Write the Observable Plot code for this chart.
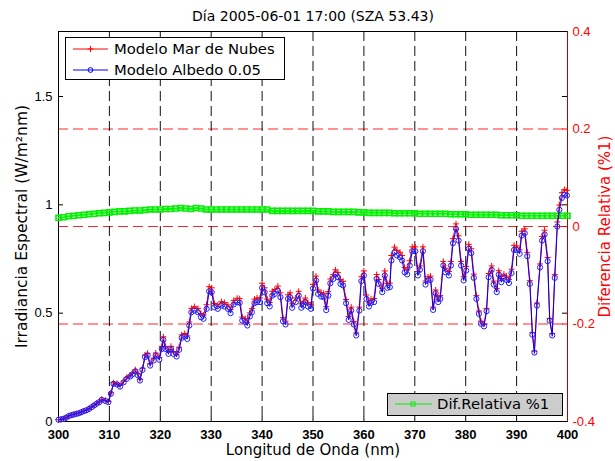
<!DOCTYPE html>
<html><head><meta charset="utf-8">
<script src="https://cdn.jsdelivr.net/npm/d3@7"></script>
<script src="https://cdn.jsdelivr.net/npm/@observablehq/plot@0.6"></script>
<style>body{margin:0;background:#fff}#chart{width:615px;height:461px}</style>
</head><body><div id="chart"></div>
<script>
const wavelength = [
300,300.5,301,301.5,302,302.5,303,303.5,304,304.5,305,305.5,306,306.5,307,307.5,308,308.5,309.2,309.8,
310.3,310.8,311.5,312.1,312.8,313.4,314.1,314.5,315.1,315.6,316,316.5,317,317.5,318,318.7,319.1,319.8,
320.3,320.6,321,321.6,322.1,322.6,323.2,323.7,324.2,324.8,325.3,325.7,326.1,326.7,327.4,328,328.5,329.1,329.6,
330.1,330.6,331.3,332,332.6,333.3,333.8,334.4,335.1,335.6,336.1,336.7,337.1,337.6,338,338.5,339,339.6,340,340.5,341,341.5,342,342.5,343.1,343.6,344.1,344.6,345.1,345.5,345.9,346.6,347.2,347.7,348.1,348.5,349,349.6,
350,350.6,351,351.6,352.1,352.6,353,353.4,354,354.4,354.9,355.4,355.9,356.5,357,357.5,358,358.5,359.1,359.5,360,360.5,361,361.4,362,362.5,362.9,363.6,364.1,364.6,365.1,365.4,366,366.5,367.1,367.5,368,368.5,369,
369.5,370.1,370.6,371,371.6,372.1,372.6,373.1,373.6,374.1,374.6,375,375.6,376,376.7,377.1,377.5,378.1,378.6,379.1,379.6,380.1,380.6,381.1,381.6,382.1,382.6,383,383.6,384.1,384.5,385.1,385.5,386.1,386.5,387,387.5,388,388.5,389,389.5,
390,390.6,391,391.6,392.1,392.6,393.1,393.5,394,394.6,395,395.5,396.1,396.5,397,397.5,398,398.4,398.9,399.4,399.9];
const irrAlbedo = [
.008,.010,.012,.018,.025,.029,.032,.035,.038,.043,.048,.052,.058,.066,.074,.082,.089,.100,.095,.089,
.128,.174,.171,.161,.181,.197,.208,.217,.232,.213,.189,.238,.297,.305,.258,.282,.305,.285,
.335,.377,.335,.312,.335,.312,.300,.331,.386,.392,.381,.443,.504,.512,.504,.481,.474,.520,.601,
.597,.527,.520,.535,.531,.520,.500,.540,.550,.548,.466,.459,.443,.485,.504,.546,.551,.551,.617,.597,.546,.531,.581,.589,.604,.574,.463,.448,.566,.574,.525,.551,.581,.525,.535,.551,.531,.520,
.614,.651,.589,.577,.574,.514,.581,.638,.658,.679,.666,.635,.628,.546,.469,.512,.448,.397,.512,.648,.674,.566,.531,.548,.551,.658,.635,.597,.674,.617,.620,.743,.781,.766,.758,.743,.689,.679,.720,
.786,.786,.674,.700,.786,.632,.651,.654,.515,.592,.551,.566,.720,.689,.674,.720,.823,.889,.835,.720,.651,.697,.797,.777,.663,.566,.497,.451,.439,.509,.666,.700,.632,.597,.678,.643,.663,.654,.639,.685,.792,
.792,.774,.858,.869,.763,.635,.401,.318,.535,.711,.835,.863,.740,.465,.397,.663,.900,.977,1.032,1.047,1.043];
const irrNubes = [
.008,.010,.012,.018,.026,.030,.033,.036,.039,.044,.049,.053,.060,.068,.076,.084,.091,.103,.098,.092,
.132,.179,.176,.166,.186,.203,.214,.224,.239,.220,.195,.246,.307,.315,.267,.292,.316,.295,
.347,.391,.347,.323,.347,.323,.311,.343,.400,.406,.395,.459,.522,.530,.522,.498,.491,.539,.622,
.617,.545,.538,.553,.549,.538,.517,.558,.569,.567,.482,.475,.458,.501,.521,.565,.570,.570,.638,.617,.565,.549,.601,.609,.625,.594,.479,.463,.585,.594,.543,.570,.601,.543,.553,.570,.549,.538,
.633,.671,.607,.595,.592,.530,.599,.658,.678,.700,.687,.655,.647,.563,.484,.528,.462,.409,.528,.668,.695,.584,.547,.565,.568,.678,.655,.615,.695,.636,.639,.766,.805,.790,.781,.766,.710,.700,.742,
.806,.806,.692,.718,.806,.648,.668,.671,.528,.607,.565,.581,.739,.707,.692,.739,.844,.912,.857,.739,.668,.715,.818,.797,.680,.581,.510,.463,.450,.522,.683,.718,.648,.613,.696,.660,.680,.671,.656,.703,.813,
.810,.792,.878,.889,.781,.650,.410,.325,.547,.727,.854,.883,.757,.476,.406,.678,.921,.999,1.056,1.071,1.067];
const wlDif = d3.range(300, 401);
const difRel = [
.018,.019,.021,.022,.023,.024,.025,.026,.027,.028,
.029,.030,.031,.031,.032,.033,.033,.034,.035,.035,
.035,.036,.036,.037,.038,.037,.036,.038,.037,.035,
.035,.035,.035,.035,.035,.035,.035,.035,.035,.035,
.035,.035,.032,.032,.032,.032,.032,.032,.032,.032,
.032,.031,.031,.031,.030,.030,.030,.030,.030,.029,
.029,.028,.028,.028,.028,.028,.027,.027,.027,.027,
.027,.026,.026,.026,.026,.026,.026,.025,.025,.025,
.025,.024,.024,.024,.024,.024,.024,.023,.023,.023,
.023,.022,.022,.022,.022,.022,.022,.022,.022,.022,.022];
const xTicks = [300,310,320,330,340,350,360,370,380,390,400];
const yTicksLeft = [0,0.5,1,1.5];
const yTickLabelsLeft = ["0","0.5","1","1.5"];
const yTicksRight = [-0.4,-0.2,0,0.2,0.4];
const yTickLabelsRight = ["-0.4","-0.2","0","0.2","0.4"];
const leftDomain = [0, 1.8];
const rightDomain = [-0.4, 0.4];
const titleText = "Día 2005-06-01 17:00 (SZA 53.43)";
const xLabel = "Longitud de Onda (nm)";
const yLabelLeft = "Irradiancia Espectral (W/m²nm)";
const yLabelRight = "Diferencia Relativa (%1)";
const legendLabels = ["Modelo Mar de Nubes", "Modelo Albedo 0.05", "Dif.Relativa %1"];

const n = Math.min(wavelength.length, irrAlbedo.length, irrNubes.length);
const spec = d3.range(n).map(i => ({w: wavelength[i], b: irrAlbedo[i], r: irrNubes[i]}));
const dif = wlDif.map((w, i) => ({w, d: difRel[i]}));
const toLeft = d3.scaleLinear(rightDomain, leftDomain);

const plusSymbol = {draw(ctx, size) { const r = Math.sqrt(size / Math.PI); ctx.moveTo(-r, 0); ctx.lineTo(r, 0); ctx.moveTo(0, -r); ctx.lineTo(0, r); }};

const W = 615, H = 461, mL = 58, mR = 48, mT = 31, mB = 40;
const fw = W - mL - mR, fh = H - mT - mB;
const tickFont = "Liberation Sans, Arial, sans-serif";
const textFont = "DejaVu Sans, Verdana, sans-serif";

const plot = Plot.plot({
  width: W, height: H,
  marginLeft: mL, marginRight: mR, marginTop: mT, marginBottom: mB,
  style: {background: "#fff", fontFamily: textFont, overflow: "visible"},
  x: {domain: [xTicks[0], xTicks[xTicks.length - 1]], axis: null, label: null},
  y: {domain: leftDomain, axis: null, label: null},
  marks: [
    Plot.ruleY(yTicksRight.map(toLeft), {stroke: "#ff0000", strokeOpacity: 0.85, strokeDasharray: "10,5", strokeWidth: 1}),
    Plot.ruleX(xTicks.slice(1, -1), {stroke: "#111", strokeDasharray: "10,5", strokeWidth: 1}),
    Plot.frame({stroke: "#000"}),
    Plot.ruleX([xTicks[xTicks.length - 1]], {stroke: "#c00000"}),
    Plot.ruleX(xTicks.slice(1, -1), {stroke: "#000", insetTop: fh - 5}),
    Plot.ruleY(yTicksLeft.slice(1), {stroke: "#000", insetRight: fw - 5}),
    Plot.ruleY(yTicksLeft.slice(1), {stroke: "#000", insetLeft: fw - 5}),
    Plot.ruleY(yTicksRight.slice(1, -1).map(toLeft), {stroke: "#ff0000", insetLeft: fw - 5}),
    Plot.line(dif, {x: "w", y: d => toLeft(d.d), stroke: "#00ff00", strokeWidth: 2}),
    Plot.dot(dif, {x: "w", y: d => toLeft(d.d), symbol: "square", r: 2.8, stroke: "#00f000", fill: "none", strokeWidth: 1.6}),
    Plot.line(spec, {x: "w", y: "r", stroke: "#ff0000", strokeWidth: 1}),
    Plot.dot(spec, {x: "w", y: "r", symbol: plusSymbol, r: 3, stroke: "#ff0000", fill: "none", strokeWidth: 1}),
    Plot.line(spec, {x: "w", y: "b", stroke: "#0000ff", strokeWidth: 1}),
    Plot.dot(spec, {x: "w", y: "b", r: 2.6, stroke: "#2020ff", fill: "none", strokeWidth: 1}),
    Plot.axisX(xTicks, {anchor: "bottom", tickSize: 0, tickPadding: 8, fontSize: 13, fontWeight: "bold", fontFamily: tickFont, fill: "#000", label: null}),
    Plot.axisY(yTicksLeft, {anchor: "left", tickSize: 0, tickPadding: 6, fontSize: 13, fontFamily: tickFont, tickFormat: (d, i) => yTickLabelsLeft[i], fill: "#000", label: null}),
    Plot.axisY(yTicksRight.map(toLeft), {anchor: "right", tickSize: 0, tickPadding: 5, fontSize: 13, fontFamily: tickFont, tickFormat: (d, i) => yTickLabelsRight[i], fill: "#ff0000", textAnchor: "start", label: null}),
    Plot.text([titleText], {frameAnchor: "top", dy: -15, fontSize: 14, fill: "#000", lineAnchor: "middle", textAnchor: "middle"}),
    Plot.text([xLabel], {frameAnchor: "bottom", dy: 29, fontSize: 15, fill: "#000", lineAnchor: "middle", textAnchor: "middle"}),
    Plot.text([yLabelLeft], {frameAnchor: "left", dx: -36, rotate: -90, fontSize: 15.5, fill: "#000", lineAnchor: "middle", textAnchor: "middle"}),
    Plot.text([yLabelRight], {frameAnchor: "right", dx: 38, rotate: -90, fontSize: 15, fill: "#ff0000", lineAnchor: "middle", textAnchor: "middle"})
  ]
});
document.getElementById("chart").appendChild(plot);

// legends
const svg = d3.select(plot);
const g1 = svg.append("g").attr("font-family", textFont).attr("font-size", 14.8).attr("text-anchor", "start");
g1.append("rect").attr("x", 65.5).attr("y", 37.5).attr("width", 219).attr("height", 42).attr("fill", "#fff").attr("stroke", "#000");
[[49, "#ff0000", 0], [70, "#0000ff", 1]].forEach(([yy, c, k]) => {
  g1.append("line").attr("x1", 73).attr("x2", 108).attr("y1", yy).attr("y2", yy).attr("stroke", c);
  if (k === 0) {
    g1.append("path").attr("d", `M87.5,${yy}h6M90.5,${yy - 3}v6`).attr("stroke", c).attr("fill", "none");
  } else {
    g1.append("circle").attr("cx", 90.5).attr("cy", yy).attr("r", 2.4).attr("stroke", c).attr("fill", "none");
  }
  g1.append("text").attr("x", 114).attr("y", yy).attr("dy", "0.35em").attr("fill", "#000").attr("text-anchor", "start").text(legendLabels[k]);
});
const g2 = svg.append("g").attr("font-family", textFont).attr("font-size", 14.8).attr("text-anchor", "start");
g2.append("rect").attr("x", 387.5).attr("y", 393.5).attr("width", 175).attr("height", 22).attr("fill", "#cccccc").attr("stroke", "#000");
g2.append("line").attr("x1", 395).attr("x2", 432).attr("y1", 404).attr("y2", 404).attr("stroke", "#00ee00");
g2.append("rect").attr("x", 411).attr("y", 402).attr("width", 4).attr("height", 4).attr("stroke", "#00ee00").attr("fill", "none");
g2.append("text").attr("x", 437).attr("y", 404).attr("dy", "0.35em").attr("fill", "#000").attr("text-anchor", "start").text(legendLabels[2]);
</script></body></html>
